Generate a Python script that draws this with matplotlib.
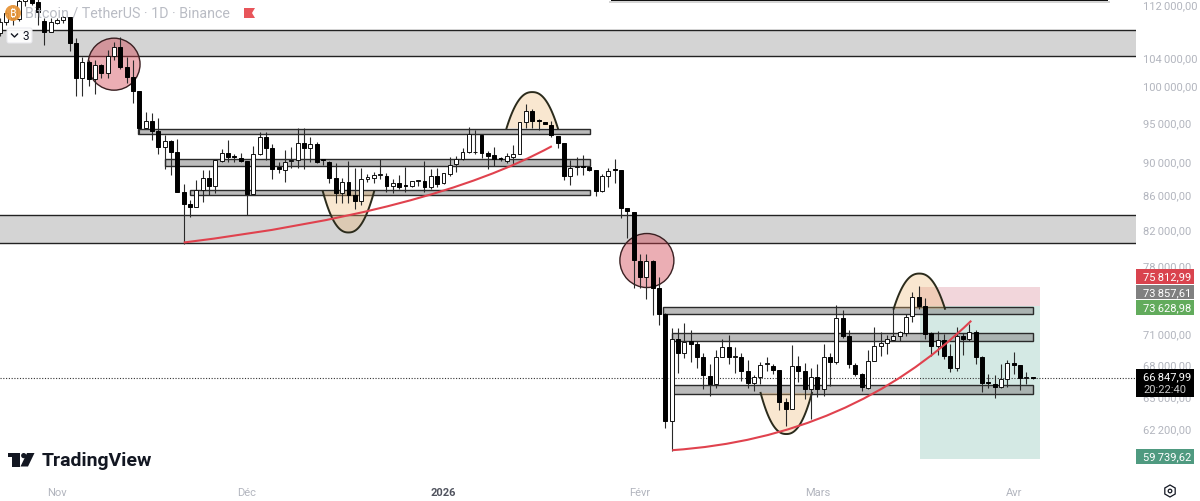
import numpy as np
import matplotlib
matplotlib.use("Agg")
import matplotlib.pyplot as plt
from matplotlib.patches import Polygon, Rectangle, Circle, RegularPolygon, FancyBboxPatch, PathPatch
from matplotlib.path import Path
from matplotlib.transforms import ScaledTranslation

# daily candles, first one is 9 days before Nov 1
first_day = -9
opens = [107900, 109500, 110900, 110000, 112700, 113300, 112650, 109700, 108000, 109400,
         109850, 110300, 106400, 101330, 103610, 101190, 103180, 102040, 104480, 105800,
         102900, 101470, 99520, 94530, 95450, 94140, 92070, 92840, 91430, 86490,
         85050, 84700, 86730, 88190, 87210, 90290, 91300, 90930, 90670, 90290,
         86250, 91180, 93350, 91950, 89550, 89170, 90290, 90420, 92580, 91950,
         92450, 90540, 90170, 88190, 86370, 87700, 86130, 85410, 88060, 88190,
         88550, 88430, 87210, 87580, 87330, 87210, 87820, 87820, 87090, 88430,
         87580, 88670, 89920, 90540, 91430, 91430, 93620, 91300, 91050, 90670,
         90290, 90800, 91180, 95320, 96800, 95590, 95320, 94930, 93480, 92580,
         88430, 89550, 89670, 89550, 89170, 86610, 88430, 89300, 89170, 84590,
         84120, 78690, 76950, 78690, 75790, 73090, 63000, 70600, 69240, 70410,
         70120, 68860, 67060, 66320, 68860, 69820, 68860, 68860, 67530, 66410,
         66970, 68190, 68000, 67620, 64680, 64060, 68000, 67530, 65860, 66970,
         65860, 68860, 68380, 72690, 70900, 68100, 67250, 65950, 68480, 69920,
         70220, 70500, 70900, 71190, 72890, 74850, 73900, 71190, 69920, 70510,
         68950, 67810, 70900, 70600, 71290, 68860, 66500, 66320, 66050, 66790,
         68290, 68100, 66880, 66970]
closes = [109500, 110900, 110000, 112700, 113300, 112500, 111050, 108000, 109550, 109850,
          110300, 106400, 101300, 103620, 101190, 103180, 102040, 104480, 105800, 102900,
          101470, 99520, 94530, 95450, 94140, 92070, 92840, 91430, 86490, 85050,
          84700, 86730, 88190, 87210, 90420, 91300, 90800, 90800, 90290, 86250,
          91180, 93350, 91950, 89300, 89300, 90170, 90420, 92580, 91950, 92450,
          90170, 90420, 88190, 86370, 87700, 86130, 85410, 88060, 88310, 88550,
          88680, 87210, 87580, 87090, 87210, 87820, 87940, 87090, 88430, 87450,
          88800, 89790, 90540, 91430, 93750, 91430, 91300, 90930, 90540, 90540,
          90930, 91180, 95320, 96800, 95450, 95450, 95060, 93620, 92580, 88430,
          89420, 89670, 89550, 89170, 86610, 88430, 89050, 89170, 84590, 84230,
          78800, 76950, 78690, 75790, 73090, 63000, 70600, 69240, 70310, 70120,
          68860, 67160, 66320, 68860, 69820, 68860, 68950, 67530, 66410, 66970,
          68100, 68290, 67620, 64680, 64060, 68000, 67530, 65860, 66970, 65860,
          68860, 68380, 72690, 70900, 68190, 67250, 66050, 68480, 69920, 70220,
          70600, 70900, 71290, 72790, 74850, 73900, 71090, 69920, 70510, 68950,
          67810, 70900, 70600, 71290, 68860, 66410, 66410, 66050, 66790, 68290,
          68100, 66880, 66970, 66848]
highs = [110150, 111400, 112000, 113800, 114000, 114000, 113500, 110150, 110150, 110150,
         110450, 110300, 107120, 104330, 103900, 103900, 103300, 105360, 106530, 107280,
         104330, 103900, 99520, 96660, 96530, 95850, 93610, 92970, 93100, 87450,
         85530, 87940, 89170, 89170, 90420, 91820, 92970, 91180, 91300, 90290,
         92200, 94010, 94010, 92450, 90170, 91690, 92070, 94530, 94530, 93350,
         92710, 90540, 90290, 90040, 88190, 90290, 89420, 89420, 88680, 88920,
         90540, 88800, 88060, 88550, 89550, 87820, 87940, 90290, 89300, 89420,
         88800, 90800, 90930, 91950, 94660, 94270, 93620, 91560, 92070, 90800,
         91300, 92330, 95320, 97730, 97060, 95720, 95320, 95450, 93480, 92580,
         90420, 90800, 91050, 89670, 89170, 88680, 89420, 90540, 89170, 84590,
         84120, 79350, 79350, 78800, 76950, 73190, 71690, 71690, 72190, 71490,
         70410, 69240, 68190, 69530, 70600, 71000, 69820, 69240, 68570, 67160,
         68380, 68860, 68190, 67620, 65040, 70020, 68950, 68290, 67810, 68190,
         70120, 69240, 74020, 73500, 71490, 68290, 67340, 69530, 71790, 71290,
         71000, 73700, 71390, 73090, 75370, 76000, 74750, 71290, 71390, 71090,
         70120, 71790, 71190, 72090, 71490, 68950, 67250, 67160, 68190, 68570,
         69340, 68100, 67440, 67000]
lows = [107400, 109000, 109000, 109700, 112000, 112100, 109100, 106050, 108000, 109250,
        109400, 105200, 98830, 98830, 100210, 99100, 101330, 101330, 103900, 102610,
        100630, 97870, 93750, 94530, 92970, 91180, 89300, 88550, 86490, 80460,
        83540, 84700, 85290, 86130, 86370, 90170, 90170, 90170, 90170, 83770,
        86250, 91050, 90420, 88060, 88800, 87700, 89420, 89420, 89300, 90170,
        90040, 89790, 87580, 85170, 85170, 85170, 84470, 84940, 87700, 87580,
        88060, 86490, 86370, 86850, 86490, 87090, 87210, 86490, 86850, 87090,
        87450, 88430, 88920, 90420, 91300, 91180, 90670, 89300, 89670, 90290,
        90040, 89790, 91180, 94530, 94530, 94270, 95060, 93350, 91950, 87940,
        87330, 88550, 88550, 89050, 86010, 86490, 87090, 87580, 83420, 81130,
        75790, 75790, 74640, 72990, 71990, 62390, 60420, 67340, 68760, 68380,
        67810, 65860, 65220, 65950, 68860, 68190, 67340, 66600, 65950, 65680,
        66320, 67530, 67250, 63970, 62560, 64060, 66510, 64950, 63180, 65130,
        65220, 66140, 68190, 70700, 67810, 67060, 65680, 65860, 68480, 68950,
        69140, 70410, 70410, 70900, 72290, 73600, 70600, 68950, 69050, 68670,
        67440, 67530, 69050, 70410, 68190, 65590, 65950, 65040, 65950, 66050,
        67250, 65770, 66320, 66800]

# axis ticks
price_ticks = [112000, 104000, 100000, 95000, 90000, 86000, 82000, 78000, 71000, 68000, 65000, 62200]
price_labels = ["112\u2009000,00", "104\u2009000,00", "100\u2009000,00", "95\u2009000,00", "90\u2009000,00",
                "86\u2009000,00", "82\u2009000,00", "78\u2009000,00", "71\u2009000,00", "68\u2009000,00",
                "65\u2009000,00", "62\u2009200,00"]
date_ticks = [0, 30, 61, 92, 120, 151]
date_labels = ["Nov", "Déc", "2026", "Févr", "Mars", "Avr"]

# drawings
bands = [(104480, 108330), (80680, 83770)]
# start day, end day, low, high
boxes = [(12.8, 84.1, 93750, 94400), (17.05, 84.1, 89670, 90540), (21.0, 84.1, 86130, 86730),
         (95.7, 154.1, 73090, 73810), (97.1, 154.1, 70410, 71190), (97.1, 154.1, 65410, 66230)]
# centre day, half width, base price, tip price
arcs = [(46, 4.05, 86610, 81810), (75, 4.05, 94530, 99380), (115.1, 4.05, 65500, 61870), (136.1, 4.05, 73600, 77280)]
curve_days = [(20, 58.9, 78.1), (97.1, 125.2, 144.3)]
curve_prices = [(80680, 84120, 92200), (60500, 61530, 72390)]
circle_days = [9, 93.1]
circle_prices = [103300, 78690]
circle_sizes = [1402, 1512]
last_price = 66847.99
trade_start, trade_end = 136.2, 155.2
stop_price, entry_price, target_price = 75812.99, 73857.61, 59739.62

plt.rcParams["font.family"] = ["Roboto", "DejaVu Sans"]

fig = plt.figure(figsize=(12, 5.02), dpi=100)
ax = fig.add_axes([0, 22 / 502, 1136 / 1200, 480 / 502])
ax.set_yscale("log")
ax.set_xlim(-9.0, 170.3)
ax.set_ylim(58132, 113066)

days = np.arange(len(opens)) + first_day
o = np.array(opens)
c = np.array(closes)
up = c >= o

# price zones
for low, high in bands:
    ax.axhspan(low, high, facecolor="#d4d4d4", edgecolor="none", zorder=1)
    ax.axhline(low, color="#222222", lw=1.0, zorder=1.1)
    ax.axhline(high, color="#222222", lw=1.0, zorder=1.1)

ax.add_patch(Rectangle((trade_start, entry_price), trade_end - trade_start, stop_price - entry_price,
                       facecolor="#f2d6db", edgecolor="none", zorder=1.2))
ax.add_patch(Rectangle((trade_start, target_price), trade_end - trade_start, entry_price - target_price,
                       facecolor="#d4e9e4", edgecolor="none", zorder=1.2))

for x0, x1, low, high in boxes:
    ax.add_patch(Rectangle((x0, low), x1 - x0, high - low, facecolor="#8f8f8f", alpha=0.6,
                           edgecolor="none", zorder=1.5))
    ax.add_patch(Rectangle((x0, low), x1 - x0, high - low, facecolor="none", edgecolor="#2a2a2a",
                           lw=1.0, zorder=1.6))

ax.axhline(last_price, color="#333333", lw=0.8, ls=(0, (1, 1.5)), zorder=1.8)

# arcs and circles sit under the candles
u = np.linspace(-1, 1, 80)
for mid, half, base, tip in arcs:
    xs = mid + half * u
    ys = base * (tip / base) ** (1 - np.abs(u) ** 2.3)
    ax.fill(xs, ys, facecolor="#eeb871", alpha=0.33, edgecolor="none", zorder=2.5)
    ax.plot(xs, ys, color="#2b2b1c", lw=1.4, zorder=2.6)

ax.scatter(circle_days, circle_prices, s=circle_sizes, facecolor=(0.82, 0.25, 0.3, 0.42),
           edgecolor="#3a2022", linewidth=1.0, zorder=2.7)

# candles
ax.vlines(days, lows, highs, color="#2a2a2a", lw=0.8, zorder=3)
ax.bar(days[up], c[up] - o[up], bottom=o[up], width=0.62, facecolor="white", edgecolor="#111111", lw=0.7, zorder=4)
ax.bar(days[~up], o[~up] - c[~up], bottom=c[~up], width=0.62, facecolor="black", edgecolor="black", lw=0.7, zorder=4)

# red curves
for cx, cy in zip(curve_days, curve_prices):
    path = Path(list(zip(cx, cy)), [Path.MOVETO, Path.CURVE3, Path.CURVE3])
    ax.add_patch(PathPatch(path, facecolor="none", edgecolor="#e0424e", lw=1.5, zorder=6))

for side in ax.spines.values():
    side.set_visible(False)
ax.minorticks_off()
ax.yaxis.tick_right()
ax.set_yticks(price_ticks)
ax.set_yticklabels(price_labels)
ax.set_xticks(date_ticks)
ax.set_xticklabels(date_labels)
ax.tick_params(axis="y", length=0, pad=5, labelsize=8.0, labelcolor="#b2b5be")
ax.tick_params(axis="x", length=0, pad=5.5, labelsize=8.0, labelcolor="#b2b5be")
ax.get_xticklabels()[2].set_color("#50535e")
ax.get_xticklabels()[2].set_fontweight("bold")
# scale labels sit a little above their price on the original
nudge = ScaledTranslation(0, 2 / 100, fig.dpi_scale_trans)
for label in ax.get_yticklabels():
    label.set_transform(label.get_transform() + nudge)

# chart furniture in screen pixels
top = fig.add_axes([0, 0, 1, 1], facecolor="none")
top.set_xlim(0, 1200)
top.set_ylim(502, 0)
top.axis("off")

# dark edge of a panel, top of the picture
top.add_patch(Rectangle((609, 1.5), 501, 2.5, facecolor="#888888", edgecolor="none", alpha=0.35))
top.add_patch(Rectangle((611, 0), 497, 2, facecolor="#111111", edgecolor="none"))

top.add_patch(Circle((13, 14), 8, facecolor="#e8963a", edgecolor="none", alpha=0.95))
top.text(13, 14.5, "\u20bf", color="white", fontsize=8, fontweight="bold", ha="center", va="center",
         family=["Noto Sans", "Open Sans", "Lato", "Inter", "Liberation Sans", "Noto Sans CJK SC", "DejaVu Sans"])
top.text(25, 14, "Bitcoin / TetherUS · 1D · Binance", color="#b2b5be", fontsize=10.3, ha="left", va="center", alpha=0.9)
top.add_patch(Polygon([(244, 9), (255, 9), (252, 14), (255, 19), (244, 19)], facecolor="#e8555a", edgecolor="none"))

top.add_patch(FancyBboxPatch((7, 29), 25, 15, boxstyle="round,pad=0,rounding_size=2", facecolor="white",
                             edgecolor="#e9e9ee", lw=0.8, alpha=0.95))
top.plot([11.5, 14.5, 17.5], [35, 38, 35], color="#131722", lw=1.0)
top.text(26, 36.5, "3", color="#131722", fontsize=8.5, ha="center", va="center")

# TradingView logo
top.add_patch(Polygon([(7.5, 454), (20, 454), (20, 467.5), (12, 467.5), (12, 458), (7.5, 458)], facecolor="#131722", edgecolor="none"))
top.add_patch(Circle((23.7, 456.6), 2.6, facecolor="#131722", edgecolor="none"))
top.add_patch(Polygon([(27, 454), (34.5, 454), (28, 467.5), (20.5, 467.5)], facecolor="#131722", edgecolor="none"))
top.text(41.5, 461, "TradingView", color="#131722", fontsize=14, fontweight="bold", ha="left", va="center")

# price tags on the scale
tags = [(270, 285, "#d9434e", "75\u2009812,99"), (286, 300, "#808080", "73\u2009857,61"),
        (301, 316, "#62ab5c", "73\u2009628,98"), (450, 465, "#4f9a80", "59\u2009739,62")]
for y0, y1, color, label in tags:
    top.add_patch(Rectangle((1136, y0), 58, y1 - y0, facecolor=color, edgecolor="none"))
    top.text(1143, (y0 + y1) / 2, label, color="white", fontsize=8.0, ha="left", va="center")
top.add_patch(Rectangle((1136, 370), 58, 28, facecolor="black", edgecolor="none"))
top.text(1143, 377.5, "66\u2009847,99", color="white", fontsize=8.0, ha="left", va="center")
top.text(1143, 390.5, "20:22:40", color="#c8c8c8", fontsize=8.0, ha="left", va="center")

top.add_patch(RegularPolygon((1170, 492), 6, radius=6, facecolor="white", edgecolor="#131722", lw=0.9))
top.add_patch(Circle((1170, 492), 1.8, facecolor="white", edgecolor="#131722", lw=0.9))

fig.savefig("out.png", dpi=100)
